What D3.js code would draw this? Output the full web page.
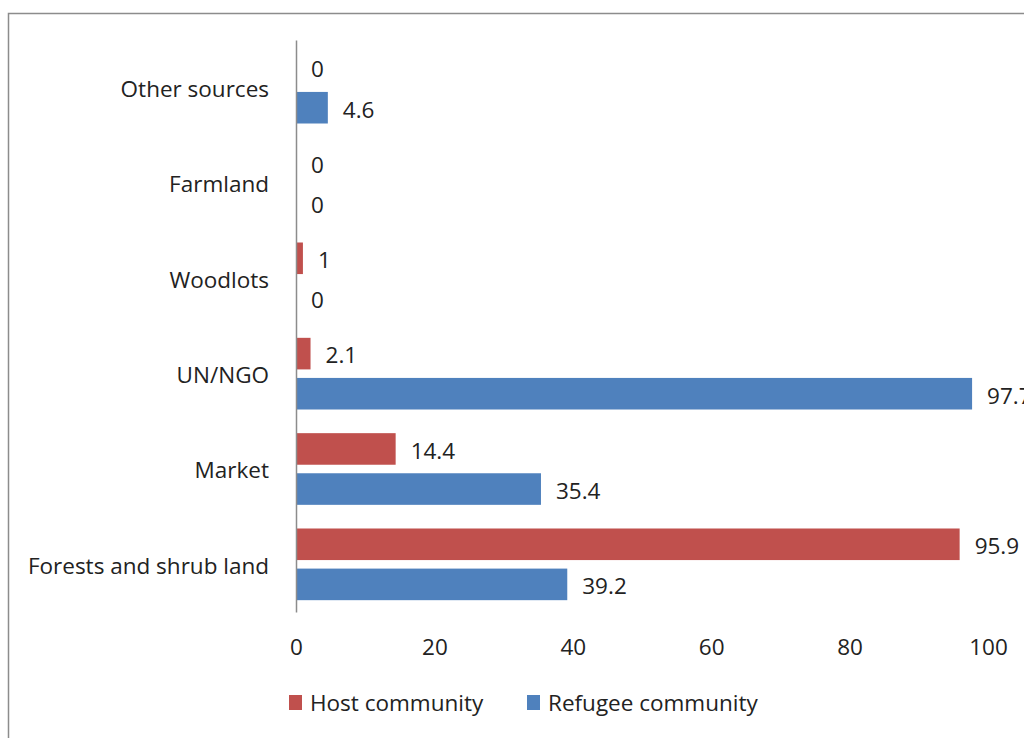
<!DOCTYPE html>
<html>
<head>
<meta charset="utf-8">
<script src="https://cdn.jsdelivr.net/npm/d3@7"></script>
<style>
  html, body { margin: 0; padding: 0; background: #fff; }
  svg { display: block; }
  text { font-family: "Open Sans", sans-serif; fill: #222; }
</style>
</head>
<body>
<svg id="chart" width="1024" height="738"></svg>
<script>
const categories = ["Other sources", "Farmland", "Woodlots", "UN/NGO", "Market", "Forests and shrub land"];
const hostValues = [0, 0, 1, 2.1, 14.4, 95.9];
const refugeeValues = [4.6, 0, 0, 97.7, 35.4, 39.2];
const seriesNames = ["Host community", "Refugee community"];
const seriesColors = ["#C0504D", "#4F81BD"];
const xTicks = [0, 20, 40, 60, 80, 100];

const svg = d3.select("#chart");
const fontSize = 22.5;

// outer border
svg.append("rect")
  .attr("x", 8.5).attr("y", 13.5)
  .attr("width", 1040).attr("height", 760)
  .attr("fill", "none").attr("stroke", "#8c8c8c").attr("stroke-width", 1.5);

const x = d3.scaleLinear().domain([0, 100]).range([296, 988]);
const y = d3.scaleBand().domain(categories).range([40, 612]).padding(0);
const sub = d3.scaleBand().domain(seriesNames).range([0, y.bandwidth()])
  .paddingInner(0.2125).paddingOuter(0.295);

const rows = categories.map((c, i) => ({cat: c, vals: [hostValues[i], refugeeValues[i]]}));

const g = svg.append("g");
const groups = g.selectAll("g.cat").data(rows).join("g")
  .attr("class", "cat")
  .attr("transform", d => `translate(0,${y(d.cat)})`);

groups.selectAll("rect").data(d => d.vals.map((v, j) => ({v, s: seriesNames[j], j})))
  .join("rect")
  .attr("x", x(0))
  .attr("y", d => sub(d.s))
  .attr("width", d => x(d.v) - x(0))
  .attr("height", sub.bandwidth())
  .attr("fill", d => seriesColors[d.j]);

groups.selectAll("text.val").data(d => d.vals.map((v, j) => ({v, s: seriesNames[j], j})))
  .join("text")
  .attr("class", "val")
  .attr("x", d => x(d.v) + 15)
  .attr("y", d => sub(d.s) + sub.bandwidth() / 2 + 2)
  .attr("dy", "0.35em")
  .attr("font-size", fontSize)
  .text(d => d.v);

// y axis (line only, no ticks)
const yAxis = d3.axisLeft(y).tickSize(0).tickPadding(27);
const yg = svg.append("g").attr("transform", `translate(${x(0)},0)`).call(yAxis);
yg.select(".domain").attr("stroke", "#8c8c8c").attr("stroke-width", 1.5);
yg.selectAll(".tick text").attr("font-size", fontSize).attr("font-family", "Open Sans, sans-serif")
  .attr("fill", "#222").attr("dy", "0.42em");

// x axis labels (no line)
const xAxis = d3.axisBottom(x).tickValues(xTicks).tickSize(0).tickPadding(0);
const xg = svg.append("g").attr("transform", `translate(0,647)`).call(xAxis);
xg.select(".domain").remove();
xg.selectAll(".tick text").attr("font-size", fontSize).attr("font-family", "Open Sans, sans-serif")
  .attr("fill", "#222").attr("dy", "0.35em").attr("y", 0);

// legend
const legendX = [289, 527];
const leg = svg.append("g");
seriesNames.forEach((name, i) => {
  leg.append("rect").attr("x", legendX[i]).attr("y", 695).attr("width", 13).attr("height", 15)
    .attr("fill", seriesColors[i]);
  leg.append("text").attr("x", legendX[i] + 21).attr("y", 703).attr("dy", "0.35em")
    .attr("font-size", fontSize).text(name);
});
</script>
</body>
</html>
